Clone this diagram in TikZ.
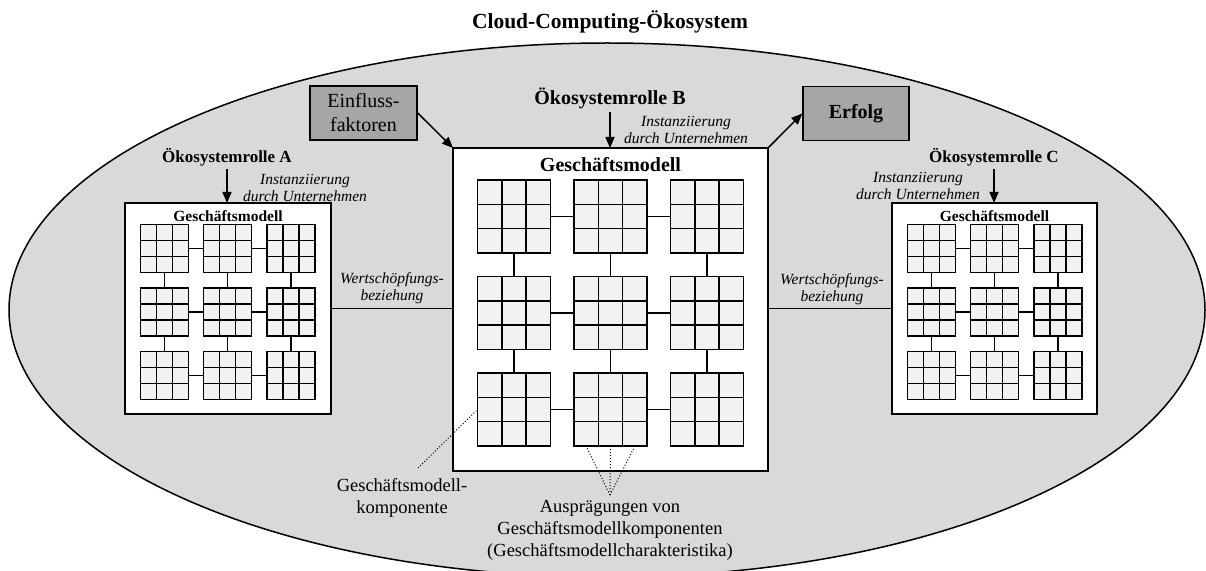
\documentclass[tikz,border=0pt]{standalone}
\usepackage{fontspec}
\setmainfont{Liberation Serif}
\usetikzlibrary{arrows.meta,calc,positioning}

\definecolor{ellgrau}{HTML}{D9D9D9}
\definecolor{zellgrau}{HTML}{F2F2F2}
\definecolor{boxgrau}{HTML}{A6A6A6}

\tikzset{
  linie/.style={line width=1.5bp},
  komp/.style={draw, linie, fill=zellgrau, inner sep=0pt, outer sep=0pt},
  modellbox/.style={draw, linie, fill=white, inner sep=0pt, outer sep=0pt},
  faktorbox/.style={draw, linie, fill=boxgrau, inner sep=0pt, minimum height=54bp, align=center},
  pfeil/.style={linie, -{Triangle[length=11bp,width=9bp]}},
  hinweis/.style={line width=1bp, dotted},
  titel/.style={font=\fontsize{21.5bp}{26bp}\selectfont\bfseries},
  rolle/.style={font=\fontsize{17bp}{20bp}\selectfont\bfseries},
  rollegross/.style={font=\fontsize{20bp}{24bp}\selectfont\bfseries},
  gmklein/.style={font=\fontsize{15.5bp}{18bp}\selectfont\bfseries},
  inst/.style={font=\fontsize{15.5bp}{17.5bp}\selectfont\itshape, align=center},
  erkl/.style={font=\fontsize{18.5bp}{22bp}\selectfont, align=center}
}

% one component: 3x3 cells
\newcommand{\komponente}[3]{%
  \node[komp, minimum size=#3bp] (#1) at (#2) {};
  \draw[linie] ($(#1.north west)!1/3!(#1.north east)$) -- ($(#1.south west)!1/3!(#1.south east)$)
    ($(#1.north west)!2/3!(#1.north east)$) -- ($(#1.south west)!2/3!(#1.south east)$)
    ($(#1.north west)!1/3!(#1.south west)$) -- ($(#1.north east)!1/3!(#1.south east)$)
    ($(#1.north west)!2/3!(#1.south west)$) -- ($(#1.north east)!2/3!(#1.south east)$);
}

% business model: 3x3 components with links
\newcommand{\modell}[5]{%
  \foreach \i in {1,2,3} {
    \foreach \j in {1,2,3} {
      \komponente{#1-\i-\j}{#2+\j*#4-2*#4, #3+\i*#4-2*#4}{#5}
    }
  }
  \foreach \i in {1,2,3} {
    \draw[linie] (#1-\i-1) -- (#1-\i-2) (#1-\i-2) -- (#1-\i-3);
    \draw[linie] (#1-1-\i) -- (#1-2-\i) (#1-2-\i) -- (#1-3-\i);
  }
}

\begin{document}
\begin{tikzpicture}[x=1bp, y=-1bp]
  \useasboundingbox (0,0) rectangle (1206,571);
  \clip (0,0) rectangle (1206,571);

  % Ecosystem
  \draw[linie, fill=ellgrau] (607,310) ellipse [x radius=598, y radius=267];
  \node[titel] (titel) at (610,22) {Cloud-Computing-Ökosystem};

  % Role B
  \node[modellbox, minimum width=315bp, minimum height=323bp] (boxB) at (610.5,309.5) {};
  \node[rollegross] (gmB) at (610.5,165) {Geschäftsmodell};
  \modell{B}{610.5}{313}{96.5}{73}
  \node[rollegross] (rolleB) at (610,98) {Ökosystemrolle B};
  \draw[pfeil] (rolleB.south) -- (rolleB.south |- boxB.north);
  \node[inst] (instB) at (686,130) {Instanziierung\\durch Unternehmen};

  % Role A
  \node[modellbox, minimum width=206bp, minimum height=211bp] (boxA) at (228,308.5) {};
  \node[gmklein] (gmA) at (228,216) {Geschäftsmodell};
  \modell{A}{227.5}{312}{63.25}{48}
  \node[rolle] (rolleA) at (227,157) {Ökosystemrolle A};
  \draw[pfeil] (rolleA.south) -- (rolleA.south |- boxA.north);
  \node[inst] (instA) at (305,188) {Instanziierung\\durch Unternehmen};

  % Role C
  \node[modellbox, minimum width=205bp, minimum height=211bp] (boxC) at (994.5,308.5) {};
  \node[gmklein] (gmC) at (994.5,216) {Geschäftsmodell};
  \modell{C}{994.5}{312}{63.25}{48}
  \node[rolle] (rolleC) at (994,157) {Ökosystemrolle C};
  \draw[pfeil] (rolleC.south) -- (rolleC.south |- boxC.north);
  \node[inst] (instC) at (918,186) {Instanziierung\\durch Unternehmen};

  % Value relations
  \draw[linie] (boxA.east) -- (boxA.east -| boxB.west);
  \node[inst] (wertA) at (392,288) {Wertschöpfungs-\\beziehung};
  \draw[linie] (boxC.west) -- (boxC.west -| boxB.east);
  \node[inst] (wertC) at (832,289) {Wertschöpfungs-\\beziehung};

  % Factors and success
  \node[faktorbox, minimum width=107bp, font=\fontsize{20bp}{24bp}\selectfont] (einfluss) at (363.5,113) {Einfluss-\\faktoren};
  \node[faktorbox, minimum width=106bp, font=\fontsize{20bp}{24bp}\selectfont\bfseries] (erfolg) at (856,113.5) {Erfolg};
  \draw[pfeil] (einfluss.east) -- (boxB.north west);
  \draw[pfeil] (boxB.north east) -- (erfolg.west);

  % Explanations
  \node[erkl] (kompLabel) at (402,497.5) {Geschäftsmodell-\\komponente};
  \coordinate (kompSpitze) at (418,468);
  \draw[hinweis] (kompSpitze) -- (B-3-1.west);
  \node[erkl] (auspLabel) at (610,530.5) {Ausprägungen von\\Geschäftsmodellkomponenten\\(Geschäftsmodellcharakteristika)};
  \coordinate (auspSpitze) at (610,495);
  \draw[hinweis] (auspSpitze) -- ($(B-3-2.south west)!1/6!(B-3-2.south east)$);
  \draw[hinweis] (auspSpitze) -- (B-3-2.south);
  \draw[hinweis] (auspSpitze) -- ($(B-3-2.south west)!5/6!(B-3-2.south east)$);
\end{tikzpicture}
\end{document}
